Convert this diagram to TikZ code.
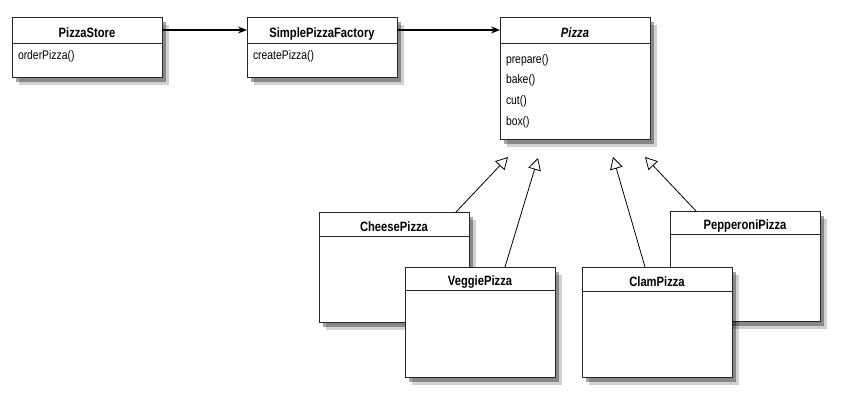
\documentclass[tikz,border=0pt]{standalone}
\usepackage{fontspec}
\setmainfont{Liberation Sans}[FakeStretch=0.83]
\usetikzlibrary{positioning,shadows,arrows.meta}

\begin{document}
\begin{tikzpicture}[x=1pt,y=-1pt,
  classname/.style={draw=black!85, line width=0.9pt, fill=white, outer sep=0pt, inner sep=0pt,
    minimum width=150pt, minimum height=26pt, text height=14pt, text depth=0pt,
    font=\fontsize{13.5}{16}\selectfont\bfseries,
    drop shadow={shadow xshift=7pt, shadow yshift=-8pt, fill=black, opacity=0.18},
    drop shadow={shadow xshift=4pt, shadow yshift=-5pt, fill=black, opacity=0.35}},
  classbody/.style={classname, text height=, text depth=, font=\fontsize{12.5}{20.7}\selectfont,
    text width=138pt, inner xsep=6pt, align=left},
  assoc/.style={line width=1.2pt, -{Stealth[length=9pt, width=7pt]}},
  inherit/.style={line width=0.8pt, -{Triangle[open, length=12pt, width=13pt, line width=0.8pt]}}]
\useasboundingbox (0,0) rectangle (866,415);

% top row
\node[classname] (store) at (87,30) {PizzaStore};
\node[classbody, minimum height=34pt, text depth=11pt, below=0pt of store] (storebody) {orderPizza()};
\node[classname] (factory) at (322,30) {SimplePizzaFactory};
\node[classbody, minimum height=34pt, text depth=11pt, below=0pt of factory] (factorybody) {createPizza()};
\node[classname, font=\fontsize{13.5}{16}\selectfont\bfseries\itshape] (pizza) at (575,30) {Pizza};
\node[classbody, minimum height=96pt, below=0pt of pizza] (pizzabody) {prepare()\\bake()\\cut()\\box()};

% subclasses
\node[classname, minimum height=24pt] (cheese) at (394,224) {CheesePizza};
\node[classbody, minimum height=86pt, below=0pt of cheese] (cheesebody) {};
\node[classname, minimum height=23pt] (veggie) at (480,278.5) {VeggiePizza};
\node[classbody, minimum height=87pt, below=0pt of veggie] (veggiebody) {};
\node[classname, minimum height=23pt] (pepperoni) at (745,222.5) {PepperoniPizza};
\node[classbody, minimum height=87pt, below=0pt of pepperoni] (pepperonibody) {};
\node[classname, minimum height=24pt] (clam) at (657,279) {ClamPizza};
\node[classbody, minimum height=86pt, below=0pt of clam] (clambody) {};

\draw[assoc] (store) -- (factory);
\draw[assoc] (factory) -- (pizza);

\coordinate (cheesetip) at ([shift={(-67,18)}]pizzabody.south);
\coordinate (veggietip) at ([shift={(-37,19)}]pizzabody.south);
\coordinate (clamtip) at ([shift={(38,18)}]pizzabody.south);
\coordinate (pepperonitip) at ([shift={(70,18)}]pizzabody.south);
\draw[inherit] ([xshift=-13pt]cheese.north east) -- (cheesetip);
\draw[inherit] ([xshift=100pt]veggie.north west) -- (veggietip);
\draw[inherit] ([xshift=63pt]clam.north west) -- (clamtip);
\draw[inherit] ([xshift=26pt]pepperoni.north west) -- (pepperonitip);
\end{tikzpicture}
\end{document}
